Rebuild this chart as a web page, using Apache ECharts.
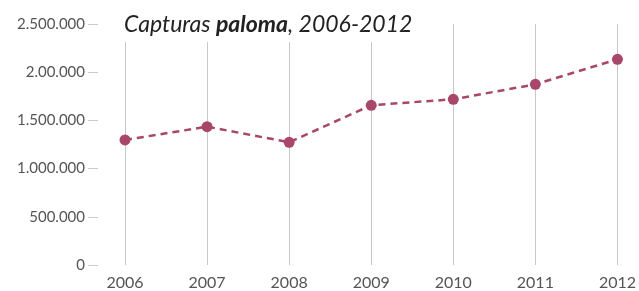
<!DOCTYPE html>
<html>
<head>
<meta charset="utf-8">
<script src="https://cdn.jsdelivr.net/npm/echarts@6/dist/echarts.min.js"></script>
<style>
  html, body { margin: 0; padding: 0; background: #fff; }
  #main { width: 639px; height: 291px; }
</style>
</head>
<body>
<div id="main"></div>
<script>
// datos
var years = ['2006', '2007', '2008', '2009', '2010', '2011', '2012'];
var capturas = [1297000, 1435000, 1273000, 1657000, 1719000, 1874000, 2134000];
var tickValues = [0, 500000, 1000000, 1500000, 2000000, 2500000];
var tickLabels = ['0', '500.000', '1.000.000', '1.500.000', '2.00.000', '2.500.000'];

var chart = echarts.init(document.getElementById('main'));
chart.setOption({
    animation: false,
    textStyle: { fontFamily: 'Lato' },
    title: {
        text: '{i|Capturas }{b|paloma}{i|, 2006-2012}',
        left: 116,
        top: 7,
        padding: [6, 8, 6, 8],
        backgroundColor: '#fff',
        textStyle: {
            rich: {
                i: { fontFamily: 'Lato', fontStyle: 'italic', fontWeight: 'normal', fontSize: 23, color: '#222' },
                b: { fontFamily: 'Lato', fontStyle: 'italic', fontWeight: 'bold', fontSize: 23, color: '#222' }
            }
        }
    },
    grid: { left: 125, right: 19, top: 24, bottom: 26 },
    xAxis: {
        type: 'category',
        data: years,
        boundaryGap: false,
        axisLine: { show: false },
        axisTick: { show: false },
        axisLabel: { color: '#555', fontSize: 16, margin: 10 },
        splitLine: { show: true, lineStyle: { color: '#c8c8c8', width: 1 } }
    },
    yAxis: {
        type: 'value',
        min: 0,
        max: 2500000,
        interval: 500000,
        offset: 27,
        axisLine: { show: false },
        axisTick: { show: true, length: 10, lineStyle: { color: '#ccc' } },
        splitLine: { show: false },
        axisLabel: {
            color: '#555',
            fontSize: 15,
            margin: 13,
            formatter: function (v) {
                var i = tickValues.indexOf(v);
                return i >= 0 ? tickLabels[i] : '';
            }
        }
    },
    series: [{
        name: 'Capturas',
        type: 'line',
        data: capturas,
        symbol: 'circle',
        symbolSize: 11,
        itemStyle: { color: '#a84769' },
        lineStyle: { color: '#a84769', width: 2.5, type: [7, 5] }
    }]
});
</script>
</body>
</html>
